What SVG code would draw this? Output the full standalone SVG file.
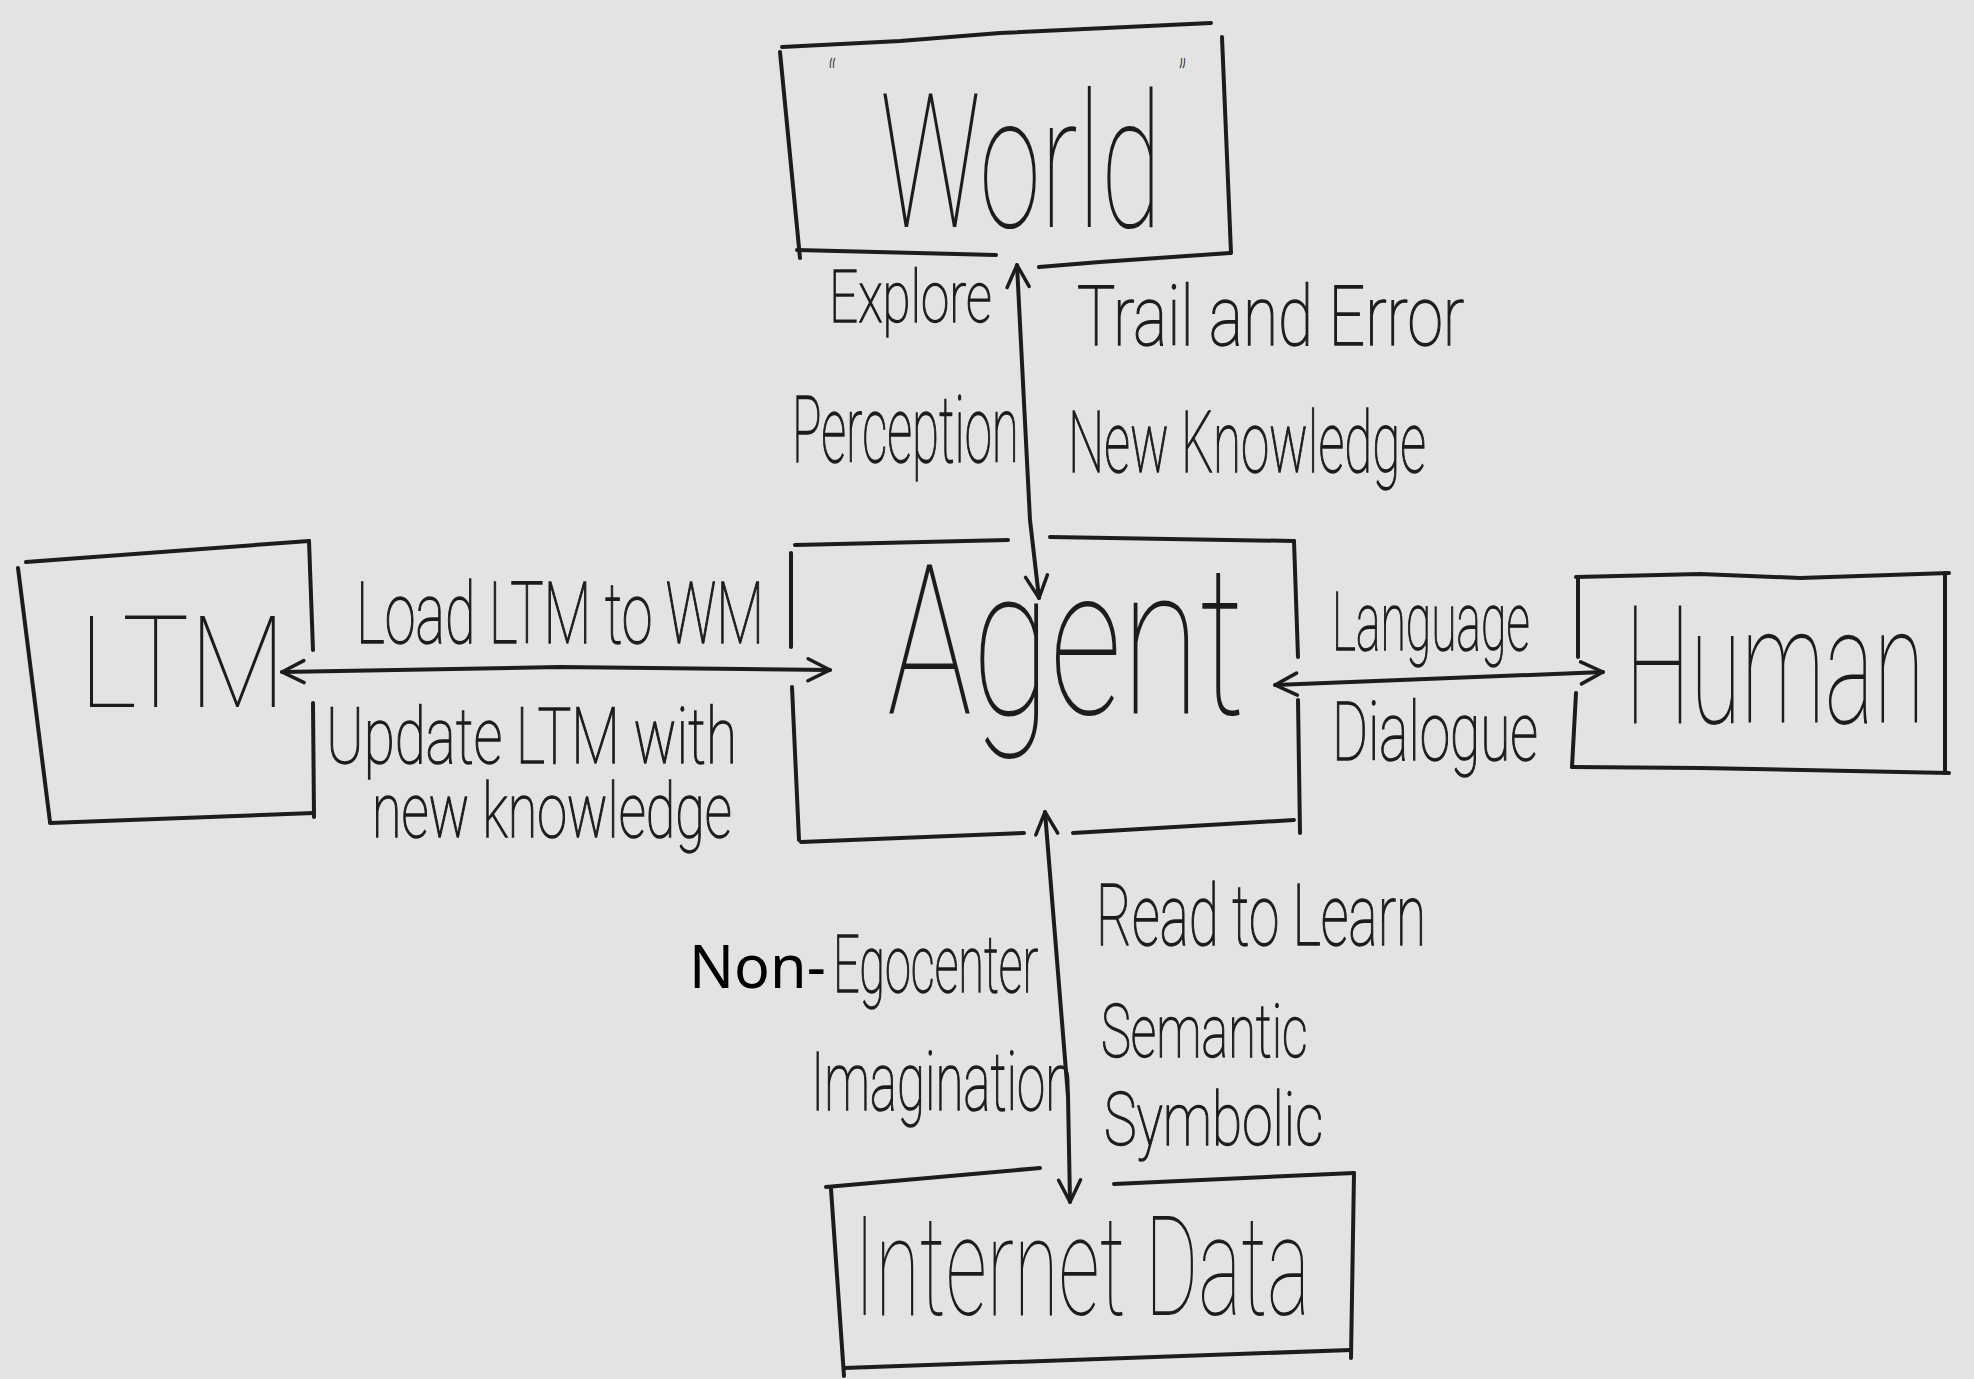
<svg xmlns="http://www.w3.org/2000/svg" width="1974" height="1379" viewBox="0 0 1974 1379">
<style>
.bg{fill:#e3e3e3}
.ln{fill:none;stroke:#1c1c1c;stroke-width:4;stroke-linecap:round;stroke-linejoin:round}
.hw{font-family:Roboto,"Liberation Sans",sans-serif;font-weight:100;fill:#1c1c1c}
.lb{font-family:Roboto,"Liberation Sans",sans-serif;font-weight:100;fill:#1c1c1c;stroke:#1c1c1c;stroke-width:1.4}
.pt{font-family:"Noto Sans","Open Sans",sans-serif;font-weight:400;fill:#000;stroke:none}
</style>
<defs>
<marker id="ah" viewBox="0 0 28 28" refX="25" refY="14" markerWidth="28" markerHeight="28" markerUnits="userSpaceOnUse" orient="auto-start-reverse">
<path d="M3,3 L25,14 L3,25" fill="none" stroke="#1c1c1c" stroke-width="3.5" stroke-linecap="round" stroke-linejoin="round"/>
</marker>
</defs>
<rect class="bg" x="0" y="0" width="1974" height="1379"/>

<g id="world">
<path class="ln" d="M782,47 L900,41 L1000,33 L1211,23"/>
<path class="ln" d="M1222,37 L1231,253"/>
<path class="ln" d="M780,52 L800,258"/>
<path class="ln" d="M797,250 L996,255"/>
<path class="ln" d="M1039,267 L1100,262 L1230,253"/>
<text class="hw" transform="translate(880,0) scale(0.61,1)"><tspan x="-85" y="100" font-size="56">“</tspan><tspan x="0" y="227" font-size="188" textLength="462" lengthAdjust="spacingAndGlyphs">World</tspan><tspan x="489" y="100" font-size="56">”</tspan></text>
</g>

<g id="agent">
<path class="ln" d="M795,545 L1008,540"/>
<path class="ln" d="M1050,537 L1294,541"/>
<path class="ln" d="M1294,541 L1298,657"/>
<path class="ln" d="M1298,700 L1300,833"/>
<path class="ln" d="M791,553 L791,647"/>
<path class="ln" d="M792,687 L799,840"/>
<path class="ln" d="M801,842 L1024,833"/>
<path class="ln" d="M1073,833 L1294,820"/>
<text class="hw" transform="translate(887,0) scale(0.68,1)" x="0" y="714" font-size="210" textLength="526" lengthAdjust="spacingAndGlyphs">Agent</text>
</g>

<g id="ltm">
<path class="ln" d="M26,562 L309,541"/>
<path class="ln" d="M309,541 L313,650"/>
<path class="ln" d="M313,703 L314,817"/>
<path class="ln" d="M18,568 L50,822"/>
<path class="ln" d="M50,823 L314,813"/>
<text class="hw" transform="translate(79,0) scale(0.84,1)" x="0" y="707" font-size="128" textLength="246" lengthAdjust="spacingAndGlyphs">LTM</text>
</g>

<g id="human">
<path class="ln" d="M1576,577 L1700,574 L1800,578 L1949,573"/>
<path class="ln" d="M1945,573 L1945,773"/>
<path class="ln" d="M1572,767 L1700,768 L1949,773"/>
<path class="ln" d="M1578,577 L1578,657"/>
<path class="ln" d="M1576,693 L1572,767"/>
<text class="hw" transform="translate(1625,0) scale(0.59,1)" x="0" y="723" font-size="166" textLength="508" lengthAdjust="spacingAndGlyphs">Human</text>
</g>

<g id="internet-data">
<path class="ln" d="M826,1187 L1040,1168"/>
<path class="ln" d="M1114,1184 L1354,1173"/>
<path class="ln" d="M1354,1173 L1351,1358"/>
<path class="ln" d="M831,1189 L844,1376"/>
<path class="ln" d="M844,1368 L1351,1350"/>
<text class="hw" transform="translate(854,0) scale(0.59,1)" x="0" y="1315" font-size="140" textLength="773" lengthAdjust="spacingAndGlyphs">Internet Data</text>
</g>

<g id="connectors">
<g id="world-agent">
<path class="ln" d="M1017,265 L1030,520 L1039,598" marker-start="url(#ah)" marker-end="url(#ah)"/>
<text class="lb" transform="translate(829,0) scale(0.72,1)" x="0" y="322" font-size="72" textLength="226" lengthAdjust="spacingAndGlyphs">Explore</text>
<text class="lb" transform="translate(1077,0) scale(0.77,1)" x="0" y="345" font-size="84" textLength="503" lengthAdjust="spacingAndGlyphs">Trail and Error</text>
<text class="lb" transform="translate(792,0) scale(0.54,1)" x="0" y="462" font-size="92" textLength="420" lengthAdjust="spacingAndGlyphs">Perception</text>
<text class="lb" transform="translate(1068,0) scale(0.61,1)" x="0" y="472" font-size="86" textLength="587" lengthAdjust="spacingAndGlyphs">New Knowledge</text>
</g>
<g id="ltm-agent">
<path class="ln" d="M282,672 L560,667 L830,670" marker-start="url(#ah)" marker-end="url(#ah)"/>
<text class="lb" transform="translate(356,0) scale(0.65,1)" x="0" y="643" font-size="86" textLength="628" lengthAdjust="spacingAndGlyphs">Load LTM to WM</text>
<text class="lb" transform="translate(326,0) scale(0.71,1)" x="0" y="763" font-size="78" textLength="579" lengthAdjust="spacingAndGlyphs">Update LTM with</text>
<text class="lb" transform="translate(372,0) scale(0.71,1)" x="0" y="837" font-size="76" textLength="507" lengthAdjust="spacingAndGlyphs">new knowledge</text>
</g>
<g id="agent-human">
<path class="ln" d="M1275,685 L1603,672" marker-start="url(#ah)" marker-end="url(#ah)"/>
<text class="lb" transform="translate(1332,0) scale(0.58,1)" x="0" y="650" font-size="82" textLength="341" lengthAdjust="spacingAndGlyphs">Language</text>
<text class="lb" transform="translate(1332,0) scale(0.68,1)" x="0" y="760" font-size="82" textLength="303" lengthAdjust="spacingAndGlyphs">Dialogue</text>
</g>
<g id="agent-internet">
<path class="ln" d="M1045,812 L1068,1096 L1070,1202" marker-start="url(#ah)" marker-end="url(#ah)"/>
<text class="lb" transform="translate(833,0) scale(0.6,1)"><tspan class="pt" x="-240" y="988" font-size="60" textLength="228" lengthAdjust="spacingAndGlyphs">Non-</tspan><tspan x="0" y="992" font-size="80" textLength="342" lengthAdjust="spacingAndGlyphs">Egocenter</tspan></text>
<text class="lb" transform="translate(811,0) scale(0.63,1)" x="0" y="1110" font-size="82" textLength="416" lengthAdjust="spacingAndGlyphs">Imagination</text>
<text class="lb" transform="translate(1096,0) scale(0.65,1)" x="0" y="945" font-size="86" textLength="508" lengthAdjust="spacingAndGlyphs">Read to Learn</text>
<text class="lb" transform="translate(1101,0) scale(0.68,1)" x="0" y="1057" font-size="74" textLength="304" lengthAdjust="spacingAndGlyphs">Semantic</text>
<text class="lb" transform="translate(1104,0) scale(0.74,1)" x="0" y="1145" font-size="74" textLength="296" lengthAdjust="spacingAndGlyphs">Symbolic</text>
</g>
</g>
</svg>
